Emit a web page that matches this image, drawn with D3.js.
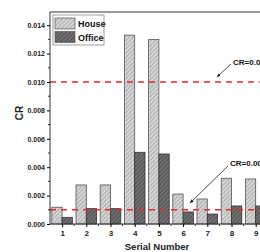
<!DOCTYPE html>
<html><head><meta charset="utf-8">
<script src="https://cdn.jsdelivr.net/npm/d3@7"></script>
<style>body{margin:0;background:#fff}svg{display:block}text{font-family:Arial,"Liberation Sans",sans-serif;font-weight:bold}</style>
</head><body>
<script>
const categories = [1,2,3,4,5,6,7,8,9,10];
const house  = [0.00118,0.00275,0.00275,0.0133,0.0130,0.00211,0.00176,0.00322,0.00317,0.0030];
const office = [0.00047,0.00108,0.00108,0.00505,0.00493,0.00085,0.0007,0.00127,0.00127,0.0011];
const yTicks = [0,0.002,0.004,0.006,0.008,0.010,0.012,0.014];
const thresholds = [0.010,0.001];
const seriesNames = ["House","Office"];

(function(){
const W=260,H=252;
const svg=d3.select("body").append("svg").attr("width",W).attr("height",H);
const defs=svg.append("defs");
function hatch(id,bg,fg){
  const p=defs.append("pattern").attr("id",id).attr("patternUnits","userSpaceOnUse").attr("width",3).attr("height",3).attr("patternTransform","rotate(45)");
  p.append("rect").attr("width",3).attr("height",3).attr("fill",bg);
  p.append("line").attr("x1",0).attr("y1",0).attr("x2",0).attr("y2",3).attr("stroke",fg).attr("stroke-width",1);
}
hatch("hH","#d4d4d4","#8a8a8a");
hatch("hO","#6e6e6e","#3c3c3c");

const mLeft=50, mTop=12, mBottom=224;
const x=d3.scaleLinear().domain([0.5,10.5]).range([mLeft,mLeft+242]);
const y=d3.scaleLinear().domain([0,0.015]).range([mBottom,mBottom-213]);
const bw=10.3;

const g=svg.append("g");
g.selectAll(".h").data(categories).join("rect")
  .attr("x",(d)=>x(d)-bw).attr("width",bw)
  .attr("y",(d,i)=>y(house[i])).attr("height",(d,i)=>y(0)-y(house[i]))
  .attr("fill","url(#hH)").attr("stroke","#555").attr("stroke-width",0.8);
g.selectAll(".o").data(categories).join("rect")
  .attr("x",(d)=>x(d)).attr("width",bw)
  .attr("y",(d,i)=>y(office[i])).attr("height",(d,i)=>y(0)-y(office[i]))
  .attr("fill","url(#hO)").attr("stroke","#333").attr("stroke-width",0.8);

g.selectAll(".thr").data(thresholds).join("line")
  .attr("x1",mLeft).attr("x2",mLeft+242).attr("y1",d=>y(d)).attr("y2",d=>y(d))
  .attr("stroke","#e8282a").attr("stroke-width",1.6).attr("stroke-dasharray","6,5");

svg.append("line").attr("x1",mLeft).attr("x2",W).attr("y1",mTop).attr("y2",mTop).attr("stroke","#333").attr("stroke-width",1);

const yAxis=d3.axisLeft(y).tickValues(yTicks).tickFormat(d3.format(".3f")).tickSize(3).tickPadding(2);
const ya=svg.append("g").attr("transform",`translate(${mLeft},0)`).call(yAxis);
ya.select(".domain").attr("stroke","#333").attr("d",`M0,${mBottom}V${mTop}`);
ya.selectAll("text").attr("font-size",7).attr("fill","#222");
svg.append("g").selectAll("line").data(d3.range(0.001,0.015,0.002)).join("line")
  .attr("x1",mLeft-2).attr("x2",mLeft).attr("y1",d=>y(d)).attr("y2",d=>y(d)).attr("stroke","#333");

const xAxis=d3.axisBottom(x).tickValues(categories).tickFormat(d3.format("d")).tickSize(3).tickPadding(3);
const xa=svg.append("g").attr("transform",`translate(0,${mBottom})`).call(xAxis);
xa.select(".domain").attr("stroke","#333").attr("d",`M${mLeft},0H${mLeft+242}`);
xa.selectAll("text").attr("font-size",8).attr("fill","#222");
svg.append("g").selectAll("line").data(categories.map(c=>c+0.5)).join("line")
  .attr("x1",d=>x(d)).attr("x2",d=>x(d)).attr("y1",mBottom).attr("y2",mBottom+2).attr("stroke","#333");

svg.append("text").attr("transform","translate(23,113) rotate(-90)").attr("text-anchor","middle").attr("font-size",10).attr("fill","#222").text("CR");
svg.append("text").attr("x",157).attr("y",250).attr("text-anchor","middle").attr("font-size",9.5).attr("fill","#222").text("Serial Number");

const lg=svg.append("g");
lg.append("rect").attr("x",53).attr("y",15).attr("width",51).attr("height",30).attr("fill","#fff").attr("stroke","#888").attr("stroke-width",0.8);
const fills=["url(#hH)","url(#hO)"];
seriesNames.forEach((s,i)=>{
  lg.append("rect").attr("x",55).attr("y",18+i*13.5).attr("width",20).attr("height",11).attr("fill",fills[i]).attr("stroke","#555").attr("stroke-width",0.7);
  lg.append("text").attr("x",78).attr("y",27+i*13.5).attr("font-size",9).attr("fill","#111").text(s);
});

defs.append("marker").attr("id","arr").attr("viewBox","0 0 10 10").attr("refX",9).attr("refY",5)
  .attr("markerWidth",5).attr("markerHeight",5).attr("orient","auto")
  .append("path").attr("d","M0,1L10,5L0,9Z").attr("fill","#222");
const ann=[{t:"CR=0.01",tx:233,ty:65,x1:231,y1:64,x2:217,y2:77},{t:"CR=0.001",tx:230,ty:166,x1:228,y1:166,x2:190,y2:203}];
ann.forEach(a=>{
  svg.append("line").attr("x1",a.x1).attr("y1",a.y1).attr("x2",a.x2).attr("y2",a.y2).attr("stroke","#222").attr("stroke-width",0.8).attr("marker-end","url(#arr)");
  svg.append("text").attr("x",a.tx).attr("y",a.ty).attr("font-size",8).attr("fill","#111").text(a.t);
});
})();
</script>
</body></html>
